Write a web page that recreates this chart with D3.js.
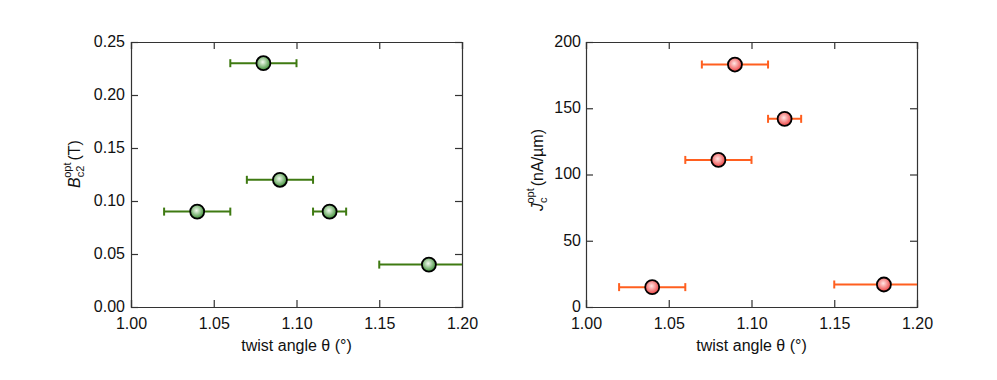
<!DOCTYPE html>
<html>
<head>
<meta charset="utf-8">
<script src="https://cdn.jsdelivr.net/npm/d3@7"></script>
<style>
  body { margin: 0; background: #fff; }
  svg { display: block; font-family: "Liberation Sans", Arial, sans-serif; }
</style>
</head>
<body>
<div id="graph-container"></div>
<script>
const width = 997, height = 380;

// twist angle and horizontal error (low, high)
const theta = [1.04, 1.08, 1.09, 1.12, 1.18];
const thetaErrLo = [0.02, 0.02, 0.02, 0.01, 0.03];
const thetaErrHi = [0.02, 0.02, 0.02, 0.01, 0.03];

const bc2 = [0.09, 0.23, 0.12, 0.09, 0.04];
const jc = [15, 111, 183, 142, 17];

const xTicks = [1.00, 1.05, 1.10, 1.15, 1.20];
const bTicks = [0.00, 0.05, 0.10, 0.15, 0.20, 0.25];
const jTicks = [0, 50, 100, 150, 200];

const svg = d3.select("#graph-container").append("svg")
  .attr("width", width)
  .attr("height", height)
  .attr("viewBox", [0, 0, width, height]);

const defs = svg.append("defs");

function grad(id, inner, outer) {
  const g = defs.append("radialGradient").attr("id", id)
    .attr("cx", "45%").attr("cy", "42%").attr("r", "60%");
  g.append("stop").attr("offset", "0%").attr("stop-color", inner);
  g.append("stop").attr("offset", "100%").attr("stop-color", outer);
}
grad("gGreen", "#f2faee", "#348a2c");
grad("gRed", "#ffe6e4", "#ec3a3a");

function panel(opts) {
  const { left, right, top, bottom, yDomain, yTicks, yFmt, ypad, values, barColor, fill, clipId } = opts;

  const x = d3.scaleLinear().domain([1.0, 1.2]).range([left, right]);
  const y = d3.scaleLinear().domain(yDomain).range([bottom, top]);

  const g = svg.append("g");

  defs.append("clipPath").attr("id", clipId)
    .append("rect")
    .attr("x", left).attr("y", top)
    .attr("width", right - left).attr("height", bottom - top);

  // axes with inward ticks on all four sides
  const tl = 7;
  g.append("g")
    .attr("transform", `translate(0,${bottom})`)
    .call(d3.axisBottom(x).tickValues(xTicks).tickSize(-tl).tickPadding(11).tickFormat(d3.format(".2f")));
  g.append("g")
    .attr("transform", `translate(0,${top})`)
    .call(d3.axisTop(x).tickValues(xTicks).tickSize(-tl).tickFormat(""));
  const ya = g.append("g")
    .attr("transform", `translate(${left},0)`)
    .call(d3.axisLeft(y).tickValues(yTicks).tickSize(-tl).tickPadding(ypad).tickFormat(yFmt));
  ya.selectAll(".tick text").attr("dy", "0.28em");
  g.append("g")
    .attr("transform", `translate(${right},0)`)
    .call(d3.axisRight(y).tickValues(yTicks).tickSize(-tl).tickFormat(""));

  g.selectAll(".domain").attr("stroke", "#333").attr("stroke-width", 1.2);
  g.selectAll(".tick line").attr("stroke", "#333").attr("stroke-width", 1.2);
  g.selectAll(".tick text").attr("fill", "#111").attr("font-size", 16);

  // error bars
  const eb = g.append("g").attr("clip-path", `url(#${clipId})`);
  const pts = theta.map((t, i) => ({ t, v: values[i], lo: t - thetaErrLo[i], hi: t + thetaErrHi[i] }));

  eb.selectAll("line.bar")
    .data(pts)
    .join("line")
    .attr("class", "bar")
    .attr("x1", d => x(d.lo)).attr("x2", d => x(d.hi))
    .attr("y1", d => y(d.v)).attr("y2", d => y(d.v))
    .attr("stroke", barColor).attr("stroke-width", 2);

  const caps = [];
  pts.forEach(d => { caps.push({ x: d.lo, v: d.v }); caps.push({ x: d.hi, v: d.v }); });
  eb.selectAll("line.cap")
    .data(caps)
    .join("line")
    .attr("class", "cap")
    .attr("x1", d => x(d.x)).attr("x2", d => x(d.x))
    .attr("y1", d => y(d.v) - 4).attr("y2", d => y(d.v) + 4)
    .attr("stroke", barColor).attr("stroke-width", 2);

  g.selectAll("circle")
    .data(pts)
    .join("circle")
    .attr("cx", d => x(d.t))
    .attr("cy", d => y(d.v))
    .attr("r", 7)
    .attr("fill", `url(#${fill})`)
    .attr("stroke", "#000")
    .attr("stroke-width", 1.8);

  // x axis title
  g.append("text")
    .attr("x", (left + right) / 2)
    .attr("y", 351)
    .attr("text-anchor", "middle")
    .attr("font-size", 16)
    .attr("fill", "#111")
    .text("twist angle θ (°)");

  return g;
}

const gl = panel({
  left: 131, right: 462, top: 42, bottom: 307,
  yDomain: [0, 0.25], yTicks: bTicks, yFmt: d3.format(".2f"), ypad: 6,
  values: bc2, barColor: "#3f7a12", fill: "gGreen", clipId: "clipL"
});

const gr = panel({
  left: 586, right: 917, top: 42, bottom: 307,
  yDomain: [0, 200], yTicks: jTicks, yFmt: d3.format("d"), ypad: 5,
  values: jc, barColor: "#ff5f1f", fill: "gRed", clipId: "clipR"
});

// y axis titles with sub/superscripts
function yTitle(g, cx, cy, sym, sub, unit) {
  const t = g.append("text")
    .attr("transform", `translate(${cx},${cy}) rotate(-90)`)
    .attr("text-anchor", "middle")
    .attr("font-size", 16)
    .attr("fill", "#111");
  t.append("tspan").attr("font-style", "italic").text(sym);
  t.append("tspan").attr("font-size", 11).attr("dy", 4).text(sub);
  t.append("tspan").attr("font-size", 11).attr("dy", -13).attr("dx", -(sub.length * 6.1)).text("opt");
  t.append("tspan").attr("dy", 9).attr("dx", 2).text(unit);
}
yTitle(gl, 80, 164, "B", "c2", "(T)");
yTitle(gr, 543, 170, "J", "c", "(nA/µm)");
</script>
</body>
</html>
